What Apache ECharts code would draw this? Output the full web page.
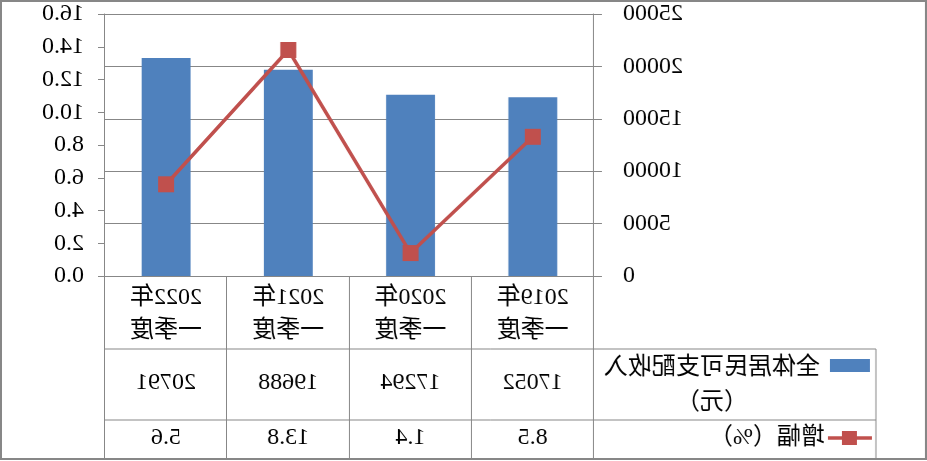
<!DOCTYPE html>
<html><head><meta charset="utf-8">
<script src="https://cdn.jsdelivr.net/npm/echarts@6/dist/echarts.min.js"></script>
<style>
html,body{margin:0;padding:0;background:#fff;}
#c{width:927px;height:461px;transform:scaleX(-1);}
</style></head>
<body><div id="c"></div>
<script>
const categories = ['2019年\n一季度','2020年\n一季度','2021年\n一季度','2022年\n一季度'];
const income = [17052, 17294, 19688, 20791];
const growth = [8.5, 1.4, 13.8, 5.6];
const incomeName = '全体居民可支配收入\n（元）';
const growthName = '增幅（%）';

const FONT = "'Liberation Serif','Noto Sans CJK SC',serif";
const GRAY = '#878787';
const chart = echarts.init(document.getElementById('c'), null, {renderer:'canvas'});
chart.setOption({
  animation:false,
  grid:{left:333,right:105,top:14,bottom:185},
  xAxis:{type:'category',data:categories,
    axisLine:{lineStyle:{color:GRAY,width:1}},
    axisTick:{show:true,length:183,lineStyle:{color:GRAY,width:1}},
    axisLabel:{interval:0,margin:5,lineHeight:33,fontSize:24,fontFamily:FONT,color:'#000'}},
  yAxis:[
    {type:'value',min:0,max:25000,interval:5000,
     axisLine:{show:true,lineStyle:{color:GRAY}},
     axisTick:{show:true,length:8,lineStyle:{color:GRAY}},
     splitLine:{show:true,lineStyle:{color:GRAY,width:1}},
     axisLabel:{margin:29,fontSize:24,fontFamily:FONT,color:'#000',formatter:v=>String(v)}},
    {type:'value',min:0,max:16,interval:2,position:'right',
     axisLine:{show:true,lineStyle:{color:GRAY}},
     axisTick:{show:true,length:7,lineStyle:{color:GRAY}},
     splitLine:{show:false},
     axisLabel:{margin:21,fontSize:24,fontFamily:FONT,color:'#000',formatter:v=>v.toFixed(1)}}
  ],
  series:[
    {name:incomeName,type:'bar',data:income,barWidth:'40%',itemStyle:{color:'#4F81BD'}},
    {name:growthName,type:'line',yAxisIndex:1,data:growth,symbol:'rect',symbolSize:16,
     lineStyle:{color:'#C0504D',width:3.5},itemStyle:{color:'#C0504D'}}
  ]
});

const g = [];
const txt = {fontSize:24,fontFamily:FONT,fill:'#000'};
g.push({type:'rect',shape:{x:1,y:1,width:925,height:458},style:{fill:'none',stroke:GRAY,lineWidth:2},z:10});
[349,420,459].forEach(y=>g.push({type:'line',shape:{x1:51,y1:y,x2:822,y2:y},style:{stroke:GRAY,lineWidth:1}}));
g.push({type:'line',shape:{x1:51,y1:349,x2:51,y2:459},style:{stroke:GRAY,lineWidth:1}});
g.push({type:'rect',shape:{x:57,y:359,width:40,height:13},style:{fill:'#4F81BD'}});
g.push({type:'text',x:215,y:350,style:Object.assign({text:incomeName,textAlign:'center',textVerticalAlign:'top',lineHeight:35},txt)});
g.push({type:'line',shape:{x1:55,y1:438,x2:99,y2:438},style:{stroke:'#C0504D',lineWidth:3.5}});
g.push({type:'rect',shape:{x:70,y:431,width:15,height:14},style:{fill:'#C0504D'}});
g.push({type:'text',x:102,y:438,style:Object.assign({text:growthName,textAlign:'left',textVerticalAlign:'middle'},txt)});
categories.forEach((c,i)=>{
  const x = chart.convertToPixel({xAxisIndex:0}, i);
  g.push({type:'text',x:x,y:383,style:Object.assign({text:String(income[i]),textAlign:'center',textVerticalAlign:'middle'},txt)});
  g.push({type:'text',x:x,y:438,style:Object.assign({text:String(growth[i]),textAlign:'center',textVerticalAlign:'middle'},txt)});
});
chart.setOption({graphic:g});
</script></body></html>
